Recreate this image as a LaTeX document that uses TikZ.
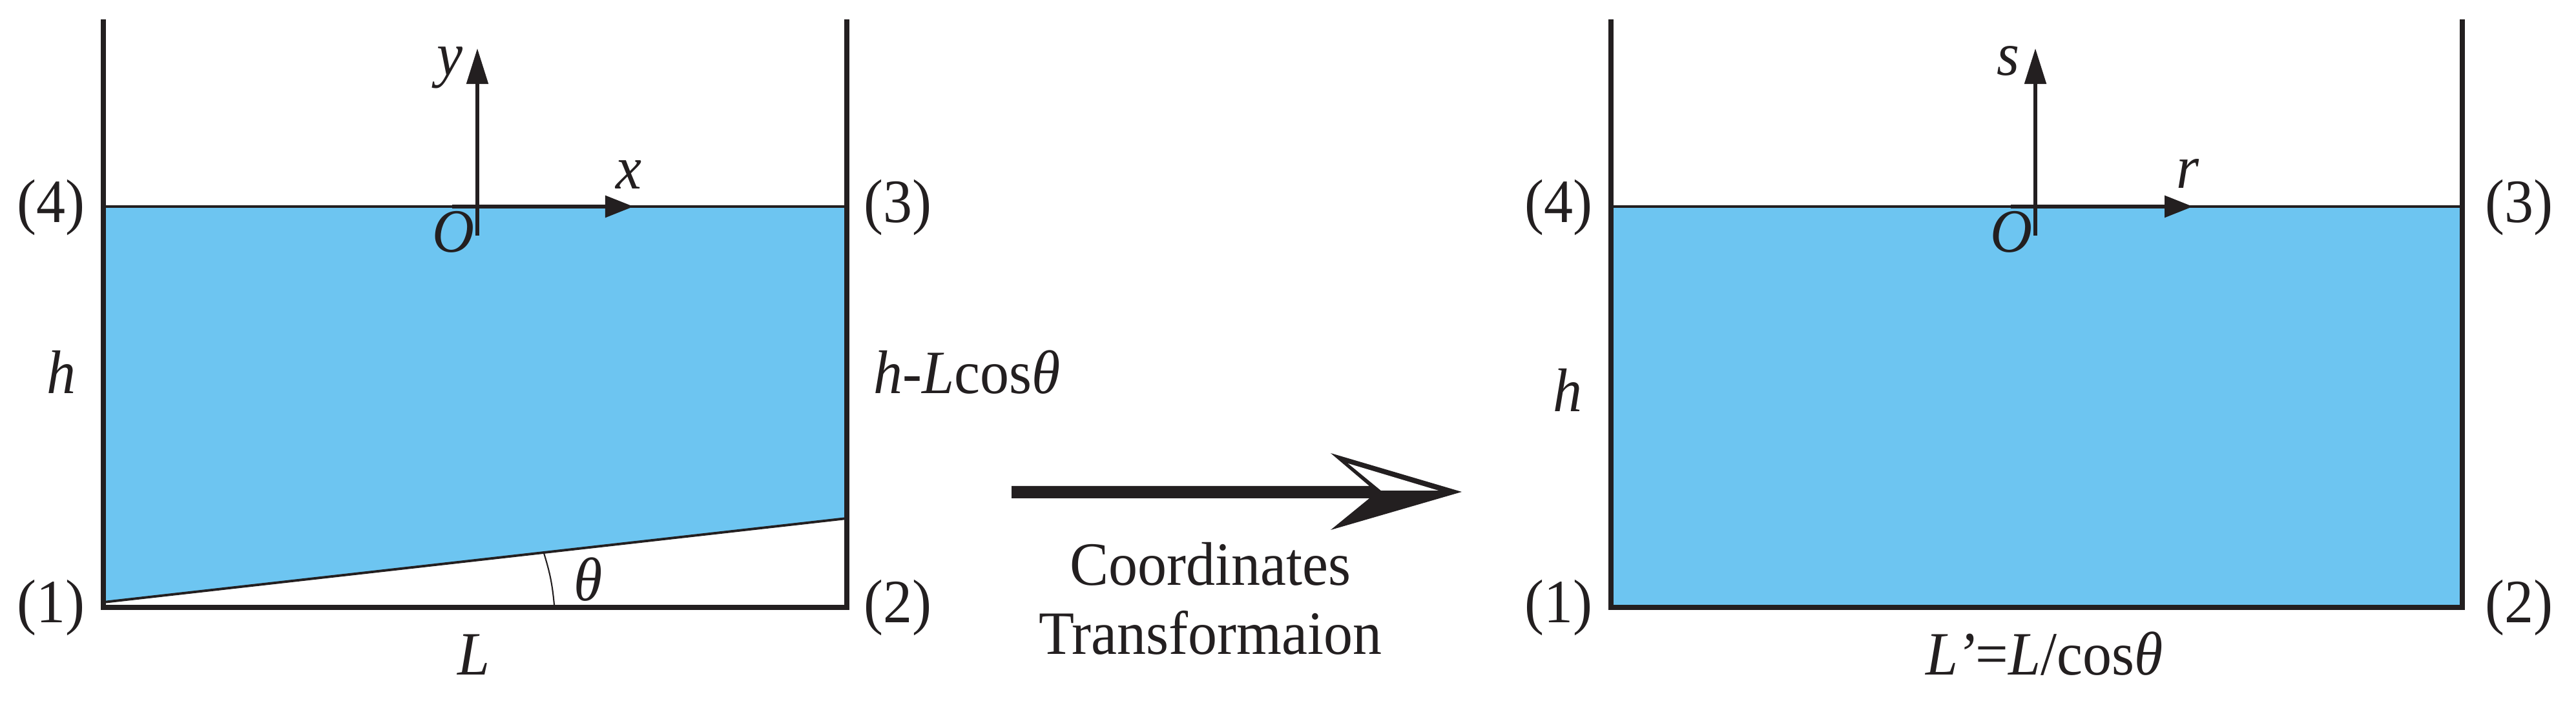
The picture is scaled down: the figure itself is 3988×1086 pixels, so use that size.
\documentclass[tikz,border=0pt]{standalone}
\usepackage{fontspec}
\setmainfont{Liberation Serif}
\usetikzlibrary{arrows.meta}
\definecolor{water}{RGB}{109,197,241}
\definecolor{ink}{RGB}{35,31,32}
\newcommand{\tall}[1]{\scalebox{1}[1.06]{#1}}
\tikzset{
    wall/.style = {ink, line width=2.5pt},
    surface/.style = {ink, line width=1.1pt},
    uparrow/.style = {ink, line width=1.5pt, -{Triangle[length=.55cm, width=.33cm]}},
    rightarrow/.style = {ink, line width=1.7pt, -{Triangle[length=.44cm, width=.33cm]}},
    lbl/.style = {text=ink, inner sep=0, anchor=base, font=\fontsize{25.6}{30}\selectfont},
}

\begin{document}
\begin{tikzpicture}[x=.01cm, y=-.01cm]
    \useasboundingbox (0,0) rectangle (3988,1086);

    % left tank
    \coordinate (ltl) at (160,30);
    \coordinate (lbl) at (160,941);
    \coordinate (lbr) at (1311,941);
    \coordinate (ltr) at (1311,30);
    \fill[water] (160,320) -- (1311,320) -- (1311,803) -- (160,933) -- cycle;
    \draw[surface] (160,320) -- (1311,320);
    \draw[surface] (160,933) -- (1311,803);
    \draw[wall] (ltl) -- (lbl) -- (lbr) -- (ltr);
    \draw[ink, line width=.6pt] (842,857) to[bend left=6] (858,937);
    \draw[uparrow] (739,365) -- (739,75);
    \draw[rightarrow] (700,320) -- (981,320);
    \node[lbl] (ly) at (696,117) {\tall{\textit{y}}};
    \node[lbl] (lx) at (973,293) {\tall{\textit{x}}};
    \node[lbl] (lO) at (702,391) {\tall{\textit{O}}};
    \node[lbl] (l4) at (79,345) {\tall{(4)}};
    \node[lbl] (l3) at (1390,345) {\tall{(3)}};
    \node[lbl] (l1) at (79,965) {\tall{(1)}};
    \node[lbl] (l2) at (1390,965) {\tall{(2)}};
    \node[lbl] (lh) at (95,610) {\tall{\textit{h}}};
    \node[lbl, anchor=base west] (lhl) at (1352,610) {\tall{\textit{h}-\textit{L}cos\textit{θ}}};
    \node[lbl] (lL) at (734,1045) {\tall{\textit{L}}};
    \node[lbl] (lth) at (911,930) {\tall{\textit{θ}}};

    % transformation arrow
    \fill[ink] (1566,753) -- (2120,753) -- (2060,702) -- (2263,762) -- (2060,821) -- (2120,772) -- (1566,772) -- cycle;
    \fill[white] (2087,718) -- (2227,760) -- (2138,760) -- cycle;
    \node[lbl] (ctext) at (1874,907) {\tall{Coordinates}};
    \node[lbl] (ttext) at (1874,1013) {\tall{Transformaion}};

    % right tank
    \coordinate (rtl) at (2494,30);
    \coordinate (rbl) at (2494,941);
    \coordinate (rbr) at (3812,941);
    \coordinate (rtr) at (3812,30);
    \fill[water] (2494,320) rectangle (3812,941);
    \draw[surface] (2494,320) -- (3812,320);
    \draw[wall] (rtl) -- (rbl) -- (rbr) -- (rtr);
    \draw[uparrow] (3151,365) -- (3151,75);
    \draw[rightarrow] (3113,320) -- (3395,320);
    \node[lbl] (rs) at (3109,117) {\tall{\textit{s}}};
    \node[lbl] (rr) at (3387,292) {\tall{\textit{r}}};
    \node[lbl] (rO) at (3114,391) {\tall{\textit{O}}};
    \node[lbl] (r4) at (2413,345) {\tall{(4)}};
    \node[lbl] (r3) at (3900,345) {\tall{(3)}};
    \node[lbl] (r1) at (2413,965) {\tall{(1)}};
    \node[lbl] (r2) at (3900,965) {\tall{(2)}};
    \node[lbl] (rh) at (2427,638) {\tall{\textit{h}}};
    \node[lbl] (rL) at (3165,1045) {\tall{\textit{L’}=\textit{L}/cos\textit{θ}}};
\end{tikzpicture}
\end{document}
